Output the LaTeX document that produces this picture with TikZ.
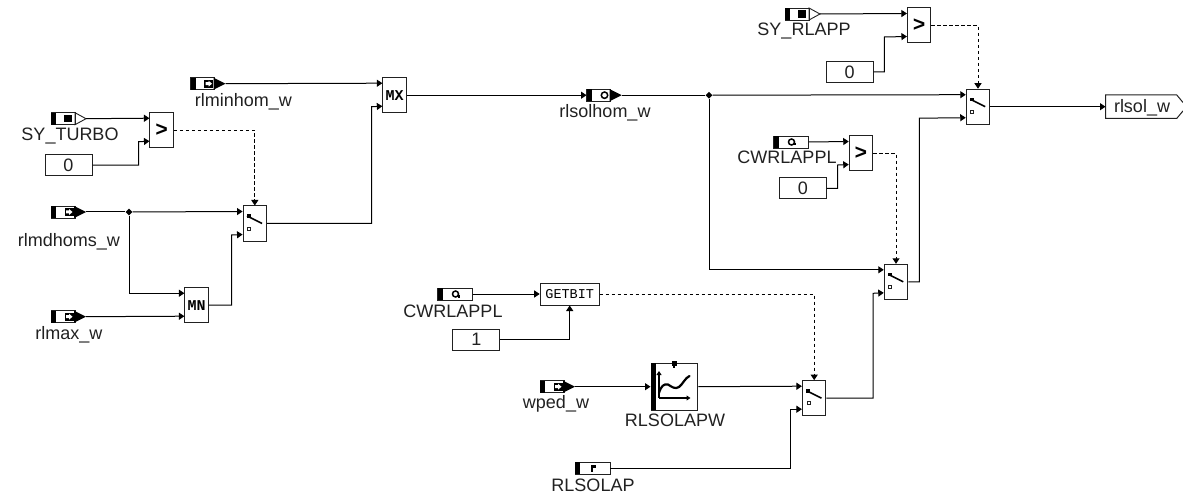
\documentclass[tikz,border=0pt]{standalone}
\usepackage{fontspec}
\setmainfont{Liberation Sans}
\newfontfamily\blockfont{Liberation Mono}
\usetikzlibrary{arrows.meta,shapes.geometric,calc}
\definecolor{ink}{gray}{0.13}
\tikzset{
  wire/.style={draw=black,line width=1pt,-{Triangle[length=5.5pt,width=7pt]}},
  plainwire/.style={draw=black,line width=1pt},
  ctrl/.style={wire,dash pattern=on 3.5pt off 2.5pt},
  blk/.style={draw=ink,fill=white,line width=1pt,inner sep=0pt,minimum width=23.5pt,minimum height=35pt,font=\blockfont\bfseries\fontsize{15}{15}\selectfont},
  cmpblk/.style={blk,font=\blockfont\bfseries\fontsize{21}{21}\selectfont},
  constbox/.style={draw=ink,fill=white,line width=1pt,inner sep=0pt,minimum width=47pt,minimum height=21pt,text=ink,font=\fontsize{18}{20}\selectfont},
  lbl/.style={inner sep=0pt,text=ink,font=\fontsize{18}{20}\selectfont},
  tagbody/.style={inner sep=0pt,minimum width=35pt,minimum height=12pt},
  dot/.style={diamond,fill=black,inner sep=0pt,minimum size=7pt}
}
% ports of a logic block
\newcommand{\ports}[1]{%
  \coordinate (#1-a) at ($(#1.north west)+(0,6)$);
  \coordinate (#1-b) at ($(#1.north west)+(0,29)$);
  \coordinate (#1-s) at (#1.north);
}
% switch block: name, centre x, centre y
\newcommand{\switchblk}[3]{%
  \node[blk] (#1) at (#2,#3) {};
  \ports{#1}
  \draw[line width=1.6pt,black] ($(#1.north west)+(4.5,10.5)$) -- ($(#1.north west)+(19.5,18)$);
  \fill[black] ($(#1.north west)+(4,9)$) rectangle ($(#1.north west)+(8,12.5)$);
  \draw[line width=.9pt,ink] ($(#1.north west)+(5,21.5)$) rectangle ($(#1.north west)+(8,24.5)$);
}
% tag frame: name, left x, centre y
\newcommand{\tagframe}[3]{%
  \node[tagbody] (#1) at ({#2+17.5},#3) {};
}
% input with black tip and arrow marker
\newcommand{\arrowmark}[2]{%
  \fill[black] (#1+13.5,#2-4) rectangle (#1+22.5,#2+4);
  \fill[white] (#1+15,#2-1.5) -- (#1+18,#2-1.5) -- (#1+18,#2-3) -- (#1+21.5,#2) -- (#1+18,#2+3) -- (#1+18,#2+1.5) -- (#1+15,#2+1.5) -- cycle;
}
\newcommand{\blacktip}[2]{%
  \draw[ink,line width=.9pt] (#1,#2-6) rectangle (#1+24,#2+6);
  \fill[black] (#1,#2-6) rectangle (#1+5,#2+6);
  \fill[black] (#1+23,#2-6) -- (#1+35,#2) -- (#1+23,#2+6) -- cycle;
}
\newcommand{\whitetip}[2]{%
  \draw[ink,line width=.9pt,fill=white] (#1+24,#2-6) -- (#1+35,#2) -- (#1+24,#2+6) -- cycle;
  \draw[ink,line width=.9pt] (#1,#2-6) rectangle (#1+24,#2+6);
  \fill[black] (#1,#2-6) rectangle (#1+5,#2+6);
  \fill[black] (#1+13,#2-3.8) rectangle (#1+21,#2+3.8);
}
\newcommand{\squaretag}[2]{%
  \draw[ink,line width=.9pt] (#1,#2-6) rectangle (#1+35,#2+6);
  \fill[black] (#1,#2-6) rectangle (#1+5,#2+6);
}
\newcommand{\qmark}[2]{%
  \draw[black,line width=1.5pt] (#1+18,#2) circle (3);
  \fill[black] (#1+20,#2+.8) rectangle (#1+22,#2+3.5);
}
\begin{document}
\begin{tikzpicture}[x=1pt,y=-1pt]
\useasboundingbox (0,0) rectangle (1183,497);
\fill[white] (0,0) rectangle (1183,497);

% blocks
\node[cmpblk] (cmpa) at (161.7,130.2) {>}; \ports{cmpa}
\node[cmpblk] (cmpb) at (919.2,25.5) {>}; \ports{cmpb}
\node[cmpblk] (cmpc) at (861,153.5) {>}; \ports{cmpc}
\node[blk] (mn) at (196.7,305.2) {MN}; \ports{mn}
\node[blk] (mx) at (394.6,95.2) {MX}; \ports{mx}
\switchblk{swa}{254.8}{223.5}
\switchblk{swb}{978}{106.7}
\switchblk{swc}{896}{281.8}
\switchblk{swd}{814.2}{398.2}
\node[draw=ink,fill=white,line width=1pt,inner sep=0pt,minimum width=59pt,minimum height=22pt,font=\blockfont\fontsize{13.5}{14}\selectfont] (getbit) at (569.7,294) {GETBIT};
\node[draw=ink,fill=white,line width=1pt,inner sep=0pt,minimum width=46.7pt,minimum height=46.6pt] (map) at (674.4,386.7) {};

% map icon
\fill[black] (651,363.4) rectangle (655.5,410);
\fill[black] (672,361) rectangle (677,366);
\fill[black] (673.3,366) rectangle (675,368);
\draw[black,line width=1.2pt,-{Triangle[length=4pt,width=5pt]}] (659,398) -- (659,371);
\draw[black,line width=1.2pt,-{Triangle[length=4pt,width=5pt]}] (659,398) -- (690.5,398);
\draw[black,line width=2.2pt,line cap=round] (659,393) .. controls (661,386) and (664,383.5) .. (668,384.5) .. controls (672,387) and (675,389.5) .. (679,387) .. controls (683,384) and (685,378) .. (689.5,376);

% constants
\node[constbox] (ka) at (68.5,165.2) {0};
\node[constbox] (kb) at (849.5,72) {0};
\node[constbox] (kc) at (802.8,188.4) {0};
\node[constbox] (kd) at (476.3,339.8) {1};

% tags
\tagframe{tturbo}{51}{118.7}\whitetip{51}{118.7}
\tagframe{trlapp}{785}{14}\whitetip{785}{14}
\tagframe{tmin}{190.5}{83.7}\blacktip{190.5}{83.7}\arrowmark{190.5}{83.7}
\tagframe{tmd}{51}{212}\blacktip{51}{212}\arrowmark{51}{212}
\tagframe{tmax}{51}{316.7}\blacktip{51}{316.7}\arrowmark{51}{316.7}
\tagframe{twp}{540}{386.7}\blacktip{540}{386.7}\arrowmark{540}{386.7}
\tagframe{thom}{586.7}{95.2}\blacktip{586.7}{95.2}
\draw[black,line width=1.5pt] (604.5,95.2) circle (3.2);
\tagframe{tcwa}{773.5}{142}\squaretag{773.5}{142}\qmark{773.5}{142}
\tagframe{tcwb}{437.5}{294}\squaretag{437.5}{294}\qmark{437.5}{294}
\tagframe{tsol}{575}{468}\squaretag{575}{468}
\fill[black] (591,464.5) rectangle (595.5,468.3);
\fill[black] (591,468.3) rectangle (592.8,471.5);
\node[inner sep=0pt,minimum width=71pt,minimum height=23.6pt] (tout) at (1141.2,106.7) {};
\draw[ink,line width=1pt] (1183,102.5) -- (1176.7,94.9) -- (1105.7,94.9) -- (1105.7,118.5) -- (1176.7,118.5) -- (1183,110.9);

% labels
\node[lbl] (lturbo) at (70,135.7) {SY\_TURBO};
\node[lbl] (lmin) at (243.5,101.5) {rlminhom\_w};
\node[lbl] (lmd) at (69,241.5) {rlmdhoms\_w};
\node[lbl] (lmax) at (69,335) {rlmax\_w};
\node[lbl] (lhom) at (605,113) {rlsolhom\_w};
\node[lbl] (lrlapp) at (804,31) {SY\_RLAPP};
\node[lbl] (lcwa) at (787,157.7) {CWRLAPPL};
\node[lbl] (lcwb) at (453,311.7) {CWRLAPPL};
\node[lbl] (lwp) at (556,404) {wped\_w};
\node[lbl] (lmap) at (675,420.7) {RLSOLAPW};
\node[lbl] (lsol) at (593,485) {RLSOLAP};
\node[lbl] (lout) at (1142,107.5) {rlsol\_w};

% junctions
\node[dot] (ja) at (129,212) {};
\node[dot] (jb) at (709,95.2) {};

% connectors
\draw[wire] (tturbo.east) -- (cmpa-a);
\draw[wire] (ka.east) -| (138.5,141.7) -- (cmpa-b);
\draw[ctrl] (cmpa.east) -| (swa-s);
\draw[plainwire] (tmd.east) -- (ja);
\draw[wire] (ja) -- (swa-a);
\draw[wire] (ja) |- (mn-a);
\draw[wire] (tmax.east) -- (mn-b);
\draw[wire] (mn.east) -| (231.5,235) -- (swa-b);
\draw[wire] (swa.east) -| (371.7,106.7) -- (mx-b);
\draw[wire] (tmin.east) -- (mx-a);
\draw[wire] (mx.east) -- (thom.west);
\draw[plainwire] (thom.east) -- (jb);
\draw[wire] (jb) -- (swb-a);
\draw[wire] (jb) |- (swc-a);
\draw[wire] (trlapp.east) -- (cmpb-a);
\draw[wire] (kb.east) -| (884.3,37) -- (cmpb-b);
\draw[ctrl] (cmpb.east) -| (swb-s);
\draw[wire] (swb.east) -- (tout.west);
\draw[wire] (tcwa.east) -- (cmpc-a);
\draw[wire] (kc.east) -| (837.7,165) -- (cmpc-b);
\draw[ctrl] (cmpc.east) -| (swc-s);
\draw[wire] (swc.east) -| (919.3,118.2) -- (swb-b);
\draw[wire] (tcwb.east) -- (getbit.west);
\draw[wire] (kd.east) -| (getbit.south);
\draw[ctrl] (getbit.east) -| (swd-s);
\draw[wire] (twp.east) -- (map.west);
\draw[wire] (map.east) -- (swd-a);
\draw[wire] (tsol.east) -| (790.7,409.2) -- (swd-b);
\draw[wire] (swd.east) -| (873,293.3) -- (swc-b);
\end{tikzpicture}
\end{document}
